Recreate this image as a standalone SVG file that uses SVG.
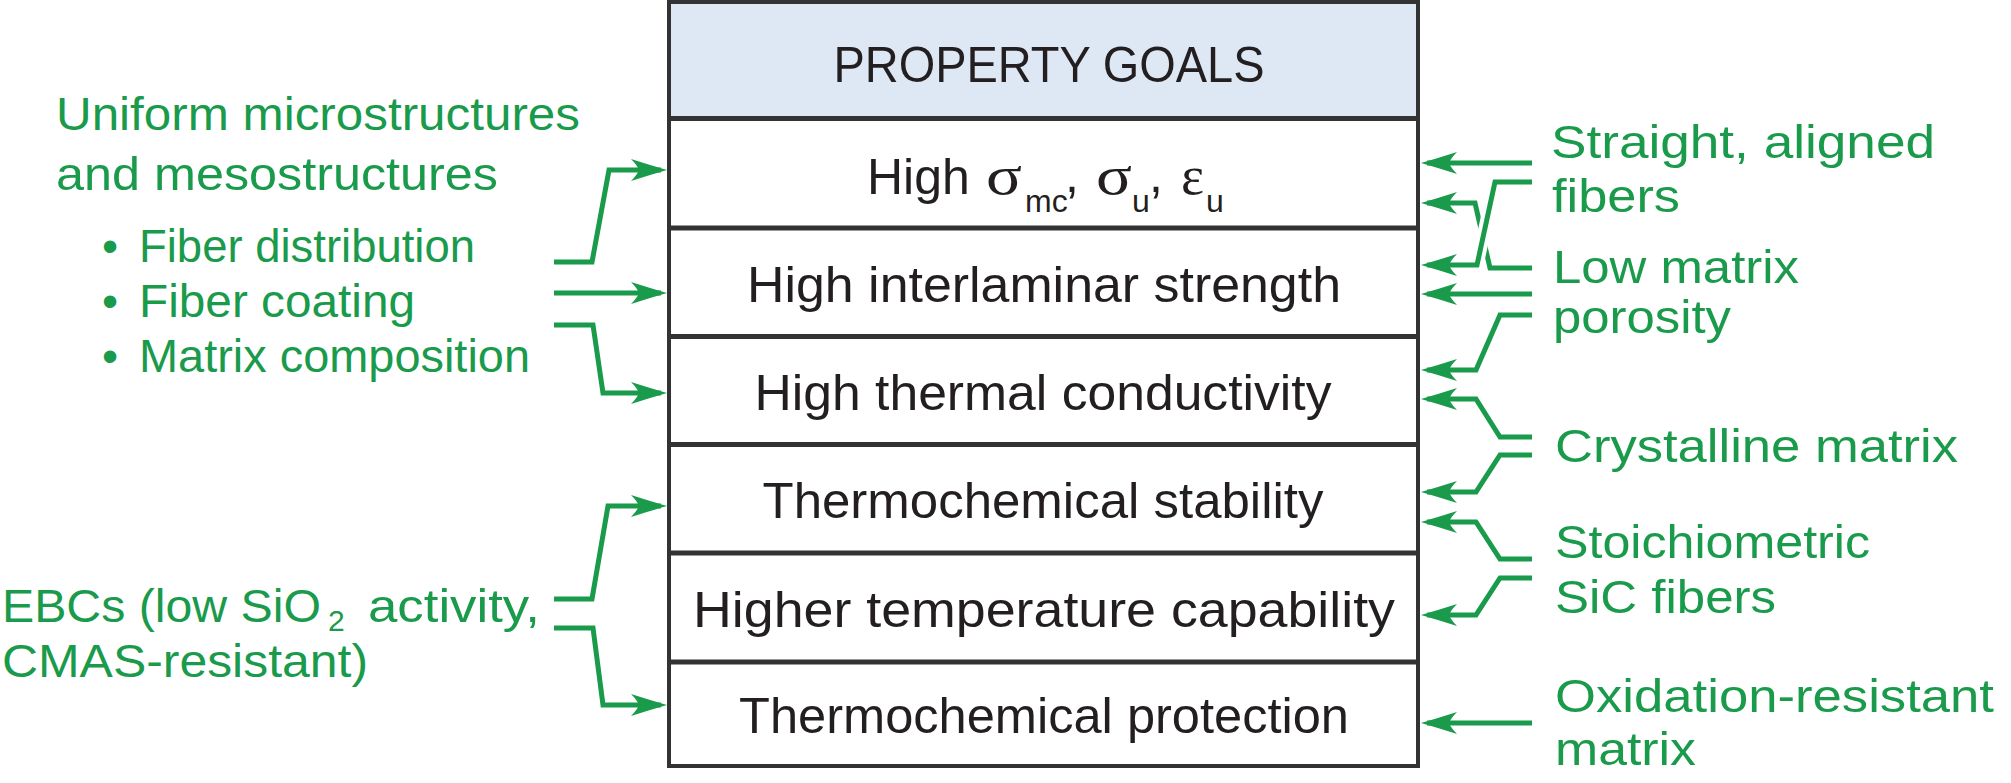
<svg xmlns="http://www.w3.org/2000/svg" width="2011" height="783" viewBox="0 0 2011 783">
<style>
.box{fill:#ffffff;stroke:#333333;stroke-width:4}
.hdr{fill:#dde8f4;stroke:#333333;stroke-width:4}
.sep{stroke:#333333;stroke-width:5}
.dt{font-family:"Liberation Sans",Arial,sans-serif;font-size:50px;fill:#231f20}
.gt{font-family:"Liberation Sans",Arial,sans-serif;font-size:46px;fill:#1a9a4b}
.gk{font-family:"Liberation Serif","Times New Roman",serif}
.sub{font-size:32px}
.con{fill:none;stroke:#1a9a4b;stroke-width:5;stroke-linejoin:miter;marker-end:url(#ah)}
.halo{fill:none;stroke:#ffffff;stroke-width:13}
</style>
<defs>
<marker id="ah" markerUnits="userSpaceOnUse" viewBox="-40 -15 50 30" markerWidth="50" markerHeight="30" refX="-6" refY="0" orient="auto" overflow="visible">
<path d="M0,0 Q-14,-4 -36,-11 Q-30,-5 -28,0 Q-30,5 -36,11 Q-14,4 0,0 Z" fill="#1a9a4b"/>
</marker>
</defs>
<rect width="2011" height="783" fill="#ffffff"/>

<g id="goals-table">
<rect class="box" x="669" y="2" width="749" height="764"/>
<rect class="hdr" x="669" y="2" width="749" height="116.5"/>
<line class="sep" x1="669" y1="118.5" x2="1418" y2="118.5"/>
<line class="sep" x1="669" y1="228" x2="1418" y2="228"/>
<line class="sep" x1="669" y1="336.5" x2="1418" y2="336.5"/>
<line class="sep" x1="669" y1="444.5" x2="1418" y2="444.5"/>
<line class="sep" x1="669" y1="553" x2="1418" y2="553"/>
<line class="sep" x1="669" y1="662" x2="1418" y2="662"/>
</g>

<g id="header">
<text class="dt" x="1049" y="82" text-anchor="middle" textLength="431" lengthAdjust="spacingAndGlyphs">PROPERTY GOALS</text>
</g>
<g id="row-strength">
<text class="dt" x="867" y="194">High <tspan class="gk" x="986" font-size="54" textLength="36" lengthAdjust="spacingAndGlyphs">σ</tspan><tspan class="sub" x="1025" y="212">mc</tspan><tspan x="1065" y="192">,</tspan><tspan class="gk" x="1096" y="194" font-size="54" textLength="36" lengthAdjust="spacingAndGlyphs">σ</tspan><tspan class="sub" x="1132" y="212">u</tspan><tspan x="1149" y="192">,</tspan><tspan class="gk" x="1181" y="194" font-size="54" textLength="23" lengthAdjust="spacingAndGlyphs">ε</tspan><tspan class="sub" x="1206" y="212">u</tspan></text>
</g>
<g id="row-interlaminar">
<text class="dt" x="1044" y="302" text-anchor="middle" textLength="594" lengthAdjust="spacingAndGlyphs">High interlaminar strength</text>
</g>
<g id="row-thermal">
<text class="dt" x="1043" y="410" text-anchor="middle" textLength="577" lengthAdjust="spacingAndGlyphs">High thermal conductivity</text>
</g>
<g id="row-stability">
<text class="dt" x="1043" y="518" text-anchor="middle" textLength="561" lengthAdjust="spacingAndGlyphs">Thermochemical stability</text>
</g>
<g id="row-temperature">
<text class="dt" x="1044" y="627" text-anchor="middle" textLength="702" lengthAdjust="spacingAndGlyphs">Higher temperature capability</text>
</g>
<g id="row-protection">
<text class="dt" x="1044" y="733" text-anchor="middle" textLength="610" lengthAdjust="spacingAndGlyphs">Thermochemical protection</text>
</g>

<g id="left-uniform">
<text class="gt" x="56" y="130" textLength="524" lengthAdjust="spacingAndGlyphs">Uniform microstructures</text>
<text class="gt" x="56" y="190" textLength="442" lengthAdjust="spacingAndGlyphs">and mesostructures</text>
<text class="gt" y="262"><tspan x="102">•</tspan><tspan x="139" textLength="336" lengthAdjust="spacingAndGlyphs">Fiber distribution</tspan></text>
<text class="gt" y="317"><tspan x="102">•</tspan><tspan x="139" textLength="276" lengthAdjust="spacingAndGlyphs">Fiber coating</tspan></text>
<text class="gt" y="372"><tspan x="102">•</tspan><tspan x="139" textLength="391" lengthAdjust="spacingAndGlyphs">Matrix composition</tspan></text>
</g>
<g id="left-ebcs">
<text class="gt" y="622"><tspan x="2" textLength="319" lengthAdjust="spacingAndGlyphs">EBCs (low SiO</tspan><tspan x="328" y="631" font-size="30">2</tspan><tspan x="368" y="622" textLength="172" lengthAdjust="spacingAndGlyphs">activity,</tspan></text>
<text class="gt" x="2" y="677" textLength="366" lengthAdjust="spacingAndGlyphs">CMAS-resistant)</text>
</g>

<g id="right-straight">
<text class="gt" x="1551" y="158" textLength="384" lengthAdjust="spacingAndGlyphs">Straight, aligned</text>
<text class="gt" x="1552" y="212" textLength="128" lengthAdjust="spacingAndGlyphs">fibers</text>
</g>
<g id="right-porosity">
<text class="gt" x="1553" y="283" textLength="246" lengthAdjust="spacingAndGlyphs">Low matrix</text>
<text class="gt" x="1553" y="333" textLength="178" lengthAdjust="spacingAndGlyphs">porosity</text>
</g>
<g id="right-crystalline">
<text class="gt" x="1555" y="462" textLength="403" lengthAdjust="spacingAndGlyphs">Crystalline matrix</text>
</g>
<g id="right-stoichiometric">
<text class="gt" x="1555" y="558" textLength="315" lengthAdjust="spacingAndGlyphs">Stoichiometric</text>
<text class="gt" x="1555" y="613" textLength="221" lengthAdjust="spacingAndGlyphs">SiC fibers</text>
</g>
<g id="right-oxidation">
<text class="gt" x="1555" y="712" textLength="439" lengthAdjust="spacingAndGlyphs">Oxidation-resistant</text>
<text class="gt" x="1555" y="765" textLength="141" lengthAdjust="spacingAndGlyphs">matrix</text>
</g>

<g id="connectors">
<path class="con" d="M554,262 H592 L609,170 H661"/>
<path class="con" d="M554,293 H661"/>
<path class="con" d="M554,325 H593 L603,393 H661"/>
<path class="con" d="M554,599 H592 L608,506 H661"/>
<path class="con" d="M554,628 H593 L603,705 H661"/>

<path class="con" d="M1532,163 H1427"/>
<path class="con" d="M1532,268 H1490 L1475,203 H1427"/>
<path class="halo" d="M1495,182 L1477,265"/>
<path class="con" d="M1532,182 H1495 L1477,265 H1427"/>
<path class="con" d="M1532,294 H1427"/>
<path class="con" d="M1532,315 H1500 L1476,370 H1427"/>
<path class="con" d="M1532,437 H1500 L1476,399 H1427"/>
<path class="con" d="M1532,455 H1500 L1476,492 H1427"/>
<path class="con" d="M1532,559 H1500 L1476,522 H1427"/>
<path class="con" d="M1532,578 H1500 L1476,615 H1427"/>
<path class="con" d="M1532,723 H1427"/>
</g>
</svg>
